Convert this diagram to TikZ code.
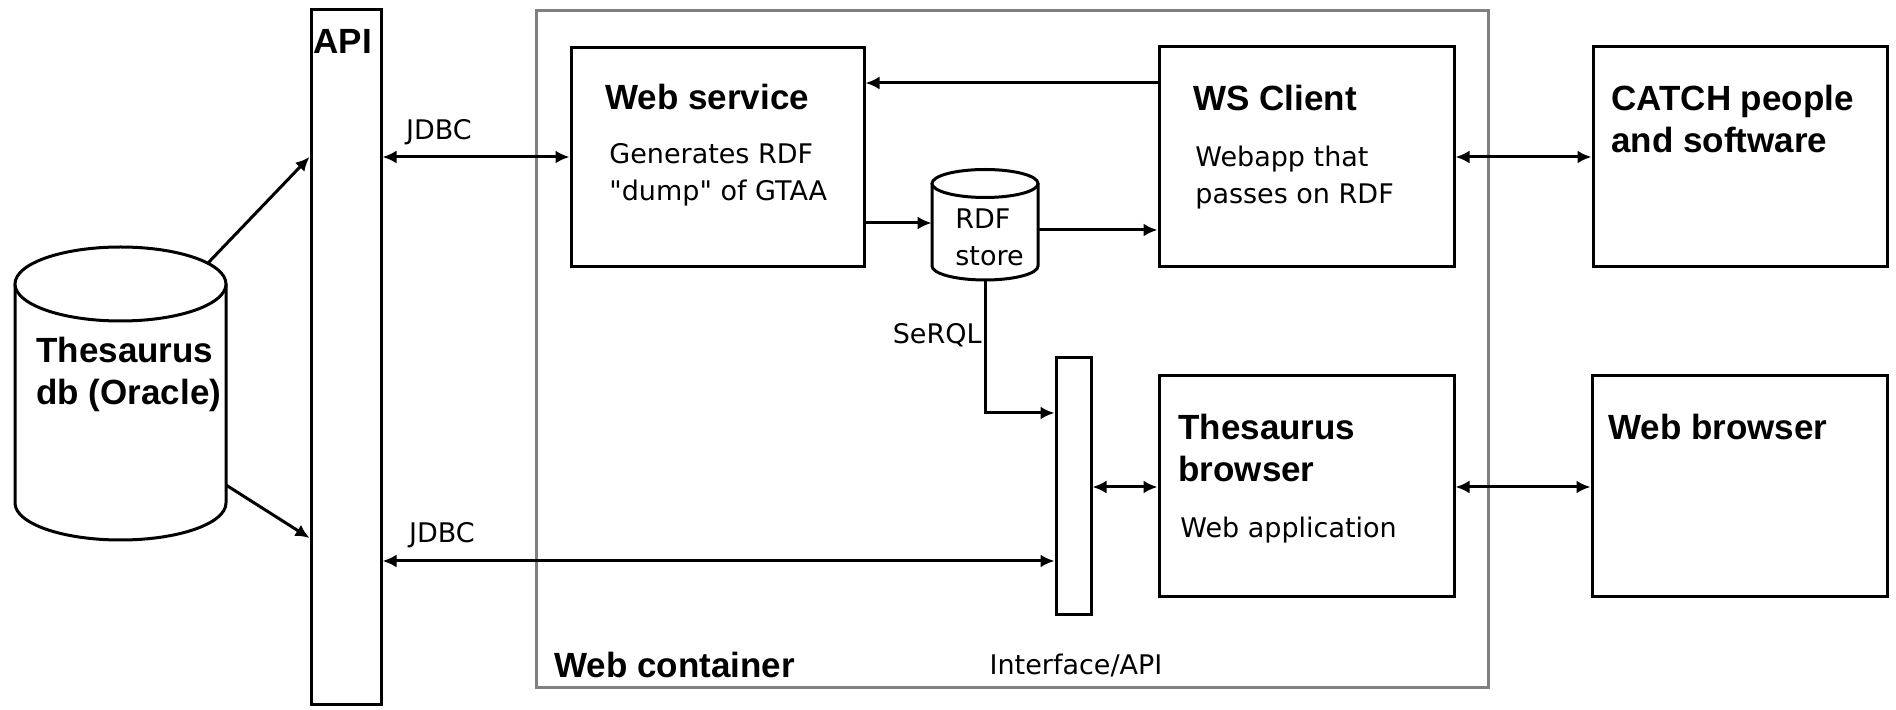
\documentclass[tikz,border=0pt]{standalone}
\usepackage{fontspec}
\setmainfont{DejaVu Sans}[Ligatures=TeXOff]
\newfontfamily\titlefont{Liberation Sans}
\usetikzlibrary{arrows.meta}
\begin{document}
\begin{tikzpicture}[x=0.5pt,y=-0.5pt,
  box/.style={draw, line width=1.5pt, inner sep=0pt},
  ghost/.style={inner sep=0pt},
  conn/.style={line width=1.5pt, -{Latex[length=7pt,width=6.5pt]}},
  biconn/.style={line width=1.5pt, {Latex[length=7pt,width=6.5pt]}-{Latex[length=7pt,width=6.5pt]}},
  title/.style={font=\titlefont\bfseries\fontsize{17.5}{21}\selectfont, inner sep=0pt, align=left, anchor=west},
  small/.style={font=\fontsize{13.5}{18.5}\selectfont, inner sep=0pt, align=left, anchor=west}]

\useasboundingbox (0,0) rectangle (1896,710);
\fill[white] (0,0) rectangle (1896,710);

% Web container
\node[box, draw=black!50, minimum width=476pt, minimum height=338.5pt] (cont) at (1012,349.5) {};
\node[title] (contlbl) at (554,665) {Web container};

% API bar
\node[box, minimum width=35pt, minimum height=347.5pt] (api) at (346,357.5) {};
\node[title] (apilbl) at (313,41.5) {API};

% Thesaurus db cylinder
\fill[white] (15,284) -- (15,503) arc[start angle=180, end angle=360, x radius=52.75pt, y radius=18.5pt] -- (226,284) -- cycle;
\draw[line width=1.5pt] (15,284) -- (15,503) arc[start angle=180, end angle=360, x radius=52.75pt, y radius=18.5pt] -- (226,284);
\draw[line width=1.5pt, fill=white] (120.5,284) ellipse [x radius=52.75pt, y radius=18.5pt];
\node[ghost, minimum width=105.5pt, minimum height=146.5pt] (db) at (120.5,393.5) {};
\node[title] (dblbl) at (36,374) {Thesaurus\\db (Oracle)};
\coordinate (dbA) at (208,263);
\coordinate (dbB) at (226,485);

% boxes
\node[box, minimum width=146.5pt, minimum height=109.5pt] (ws) at (717.5,157.5) {};
\node[title] (wst) at (605,97) {Web service};
\node[small] (wss) at (609,175) {Generates RDF\\"dump" of GTAA};

\node[box, minimum width=147.5pt, minimum height=110pt] (wsc) at (1306.5,157) {};
\node[title] (wsct) at (1193,98) {WS Client};
\node[small] (wscs) at (1195,177.5) {Webapp that\\passes on RDF};

\node[box, minimum width=147pt, minimum height=110pt] (catch) at (1740,157) {};
\node[title] (catcht) at (1611,119) {CATCH people\\and software};

\node[box, minimum width=147.5pt, minimum height=110.5pt] (tb) at (1306.5,486.5) {};
\node[title] (tbt) at (1178,447.5) {Thesaurus\\browser};
\node[small] (tbs) at (1180,530) {Web application};

\node[box, minimum width=147.5pt, minimum height=110.5pt] (wb) at (1739.5,486.5) {};
\node[title] (wbt) at (1608,427) {Web browser};

\node[box, minimum width=17.5pt, minimum height=128.5pt] (iface) at (1073.5,486.5) {};
\node[small, anchor=center] (ifacelbl) at (1076,665) {Interface/API};

% RDF store cylinder
\fill[white] (932,183.5) -- (932,266) arc[start angle=180, end angle=360, x radius=26.5pt, y radius=7pt] -- (1038,183.5) -- cycle;
\draw[line width=1.5pt] (932,183.5) -- (932,266) arc[start angle=180, end angle=360, x radius=26.5pt, y radius=7pt] -- (1038,183.5);
\draw[line width=1.5pt, fill=white] (985,183.5) ellipse [x radius=26.5pt, y radius=7pt];
\node[ghost, minimum width=53pt, minimum height=55.5pt] (rdf) at (985,224.5) {};
\node[small] (rdflbl) at (955,237) {RDF\\store};

% labels
\node[small, anchor=center] (jdbc1) at (439,132.5) {JDBC};
\node[small, anchor=center] (jdbc2) at (442,535) {JDBC};
\node[small, anchor=east] (serql) at (982,335) {SeRQL};

% connectors
\draw[conn] (dbA) -- (api.west |- 0,157);
\draw[conn] (dbB) -- (api.west |- 0,538);
\draw[biconn] (api.east |- 0,157) -- (ws.west |- 0,157);
\draw[biconn] (api.east |- 0,561) -- (iface.west |- 0,561);
\draw[conn] (wsc.west |- 0,83) -- (ws.east |- 0,83);
\draw[conn] (ws.east |- 0,223) -- (rdf.west |- 0,223);
\draw[conn] (rdf.east |- 0,230) -- (wsc.west |- 0,230);
\draw[conn] (rdf.south) -- (rdf.south |- 0,413) -- (iface.west |- 0,413);
\draw[biconn] (wsc.east |- 0,157) -- (catch.west |- 0,157);
\draw[biconn] (iface.east |- 0,487) -- (tb.west |- 0,487);
\draw[biconn] (tb.east |- 0,487) -- (wb.west |- 0,487);
\end{tikzpicture}
\end{document}
